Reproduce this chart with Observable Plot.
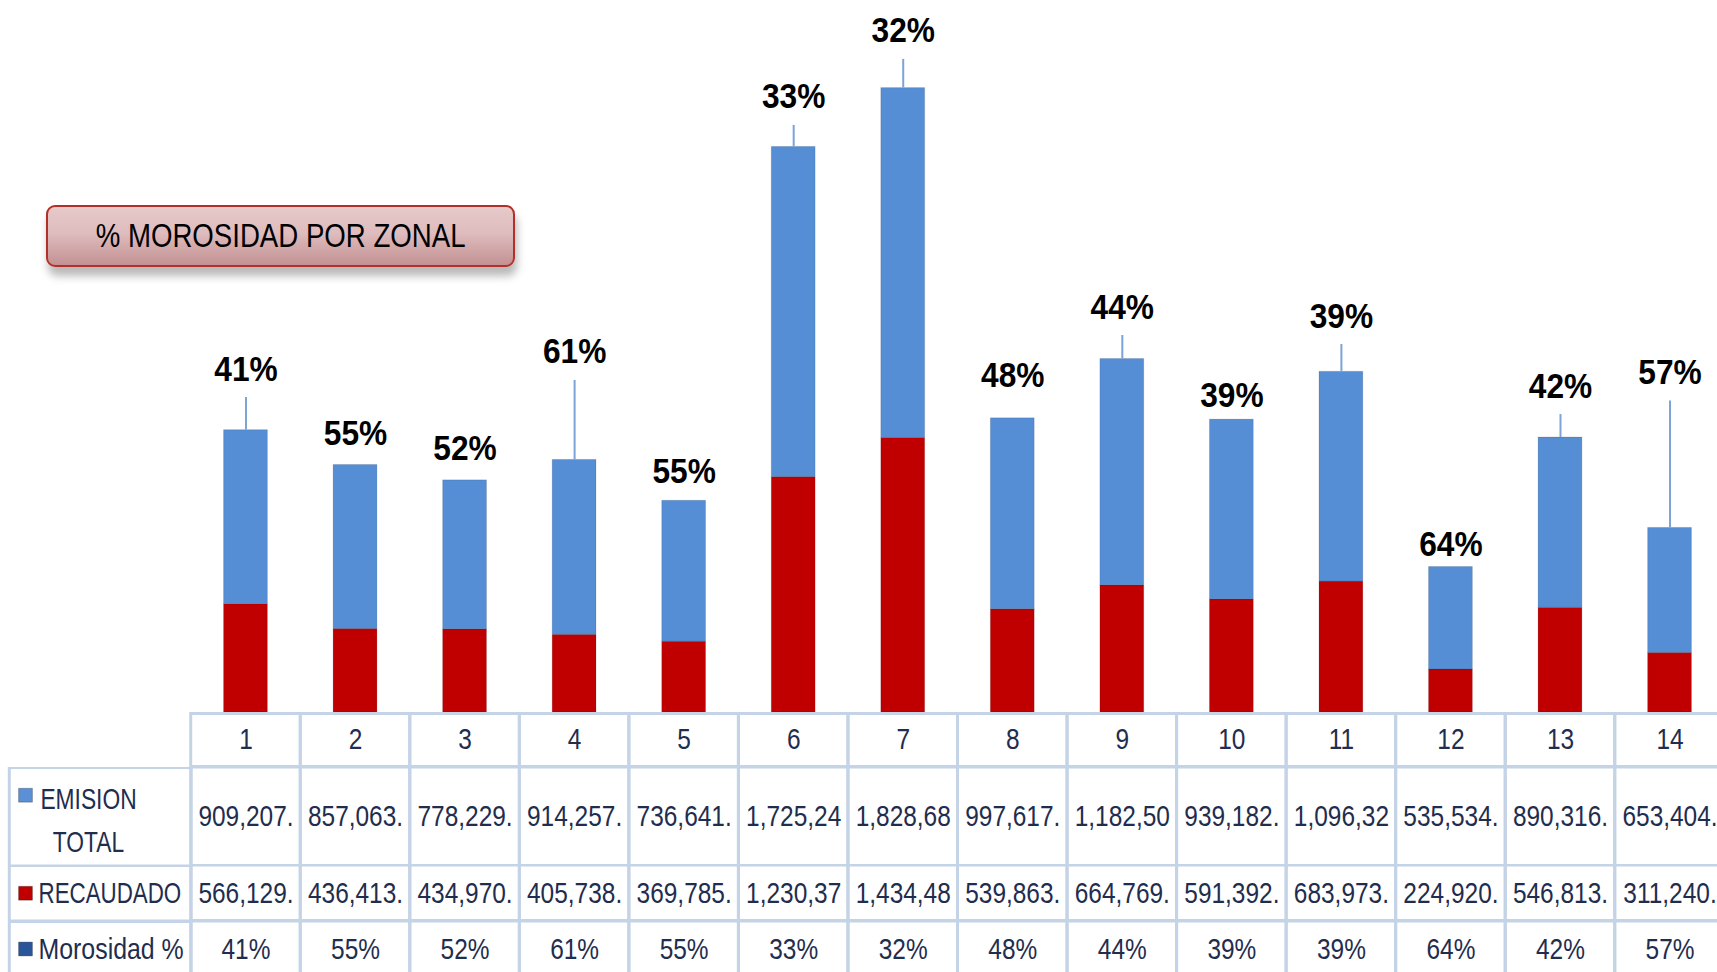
<!DOCTYPE html>
<html>
<head>
<meta charset="utf-8">
<script src="https://cdn.jsdelivr.net/npm/d3@7"></script>
<script src="https://cdn.jsdelivr.net/npm/@observablehq/plot@0.6"></script>
<style>
  html, body { margin: 0; padding: 0; background: #ffffff; }
  body { width: 1717px; height: 972px; overflow: hidden; position: relative;
         font-family: "Liberation Sans", Arial, sans-serif; }
  #chart svg, #table svg { display: block; }
  .title-box {
    position: absolute; left: 46px; top: 205px; width: 465px; height: 58px;
    border: 2px solid #b3302a; border-radius: 9px;
    background: linear-gradient(#e6c9ca 0%, #dfbcbd 45%, #c39193 100%);
    box-shadow: 2px 9px 9px rgba(0,0,0,0.28);
    display: flex; align-items: center; justify-content: center;
    font-family: "Liberation Sans", Arial, sans-serif;
    font-size: 32.5px; color: #000;
  }
  .title-box span { display: inline-block; transform: scaleX(0.85); white-space: nowrap; }
</style>
</head>
<body>
<div id="chart"></div>
<div id="table"></div>
<div class="title-box"><span>% MOROSIDAD POR ZONAL</span></div>
<script>
// ---------- data ----------
const zones = ["1","2","3","4","5","6","7","8","9","10","11","12","13","14"];
const emisionTotal = [909207.4, 857063.5, 778229.6, 914257.3, 736641.8, 1725245.2, 1828685.4, 997617.2, 1182505.6, 939182.3, 1096325.1, 535534.7, 890316.2, 653404.5];
const recaudado    = [566129.3, 436413.2, 434970.8, 405738.6, 369785.4, 1230375.5, 1434485.1, 539863.4, 664769.9, 591392.6, 683973.2, 224920.5, 546813.7, 311240.3];
const morosidad    = [0.41, 0.55, 0.52, 0.61, 0.55, 0.33, 0.32, 0.48, 0.44, 0.39, 0.39, 0.64, 0.42, 0.57];
// where each (dragged) percentage label sits, in chart units
const labelAt      = [1735000, 1398000, 1320000, 1824000, 1197000, 3157000, 3502000, 1699000, 2059000, 1594000, 2012000, 818000, 1646000, 1717000];
const rowNames     = ["EMISION\nTOTAL", "RECAUDADO", "Morosidad %"];

// ---------- layout / style ----------
const W = 1717;
const X_RANGE = [190.7, 1724.3];
const Y_DOMAIN = [0, 3700000];
const Y_RANGE = [712, 4];
const ppu = (Y_RANGE[0] - Y_RANGE[1]) / (Y_DOMAIN[1] - Y_DOMAIN[0]);
const BLUE = "#558ed5", RED = "#c00000", DARKBLUE = "#2a5699";
const NAVY = "#1f2d4e", BORDER = "#c5d3e6";
const FONT = "'Liberation Sans', Arial, sans-serif";

const cellText = v => d3.format(",.2f")(v).slice(0, 8);   // Excel clips the cell text
const pct = d3.format(".0%");

// horizontally condense the texts of one text mark (the original uses a narrow face)
function narrowGroup(g, sx) {
  if (!g) return;
  g.querySelectorAll("text").forEach(t => {
    const tr = t.getAttribute("transform");
    if (tr) t.setAttribute("transform", tr + ` scale(${sx},1)`);
    else {
      const x = +(t.getAttribute("x") || 0);
      t.setAttribute("transform", `translate(${x * (1 - sx)},0) scale(${sx},1)`);
    }
  });
}
const textGroups = svg => svg.querySelectorAll('g[aria-label="text"]');

const stacked = zones.flatMap((z, i) => [
  {zone: z, serie: "RECAUDADO", value: recaudado[i]},
  {zone: z, serie: "EMISION TOTAL", value: emisionTotal[i]}
]);
const tops = zones.map((z, i) => ({
  zone: z, total: emisionTotal[i] + recaudado[i], label: pct(morosidad[i]), at: labelAt[i]
}));

const chart = Plot.plot({
  width: W, height: 712, margin: 0,
  style: {fontFamily: FONT, background: "transparent"},
  x: {domain: zones, range: X_RANGE, paddingInner: 0.6, paddingOuter: 0.3, round: false, axis: null},
  y: {domain: Y_DOMAIN, range: Y_RANGE, axis: null},
  color: {domain: ["RECAUDADO", "EMISION TOTAL"], range: [RED, BLUE]},
  marks: [
    Plot.barY(stacked, {x: "zone", y: "value", fill: "serie", order: ["RECAUDADO", "EMISION TOTAL"],
      stroke: "#000", strokeOpacity: 0.12, strokeWidth: 1}),
    Plot.ruleX(tops.filter(d => (d.at - d.total) * ppu > 35), {
      x: "zone", y1: "total", y2: d => d.at - 17 / ppu, stroke: "#7ba3d8", strokeWidth: 2}),
    Plot.text(tops, {x: "zone", y: "at", text: "label", lineAnchor: "bottom",
      fontSize: 36, fontWeight: "bold", fill: "#000"})
  ]
});
narrowGroup(textGroups(chart)[0], 0.88);
document.getElementById("chart").append(chart);

// ---------- data table ----------
function tableRow({height, texts, label, labelOpts, labelScale, marker, markerDy, headerRow}) {
  const marks = [
    Plot.cell(zones, {x: d => d, fill: "none", stroke: BORDER, strokeWidth: 3, insetTop: headerRow ? 1.5 : 0})
  ];
  if (!headerRow) {
    marks.push(Plot.frame({stroke: BORDER, strokeWidth: 3, insetLeft: 8.8, insetRight: W - X_RANGE[0]}));
    marks.push(Plot.dot([0], {frameAnchor: "left", dx: 25, dy: markerDy || 0, symbol: "square", r: 7.8,
      fill: marker, stroke: "#00000040", strokeWidth: 1}));
    marks.push(Plot.text([label], {frameAnchor: "left", text: d => d, fill: NAVY, fontSize: 30, ...labelOpts}));
  }
  marks.push(Plot.text(zones, {x: d => d, text: (d, i) => texts[i], frameAnchor: "middle", fill: NAVY, fontSize: 30}));
  const svg = Plot.plot({
    width: W, height, margin: 0,
    style: {fontFamily: FONT, background: "transparent"},
    x: {domain: zones, range: X_RANGE, padding: 0, round: false, axis: null},
    marks
  });
  const groups = textGroups(svg);
  if (headerRow) narrowGroup(groups[0], 0.815);
  else { narrowGroup(groups[0], labelScale); narrowGroup(groups[1], 0.815); }
  return svg;
}
const table = document.getElementById("table");
table.append(tableRow({height: 54.5, texts: zones, headerRow: true}));
table.append(tableRow({height: 98.5, texts: emisionTotal.map(cellText), label: rowNames[0], marker: "#5b8fd6", markerDy: -21.5,
  labelScale: 0.76, labelOpts: {dx: 88, textAnchor: "middle", lineHeight: 1.43}}));
table.append(tableRow({height: 55.5, texts: recaudado.map(cellText), label: rowNames[1], marker: RED,
  labelScale: 0.745, labelOpts: {dx: 38, textAnchor: "start"}}));
table.append(tableRow({height: 55, texts: morosidad.map(pct), label: rowNames[2], marker: DARKBLUE,
  labelScale: 0.83, labelOpts: {dx: 38, textAnchor: "start"}}));
</script>
</body>
</html>
